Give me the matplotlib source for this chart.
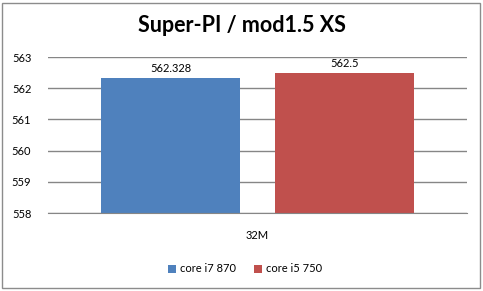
import matplotlib
matplotlib.use("Agg")
import matplotlib.pyplot as plt
from matplotlib.patches import Rectangle, Patch
from matplotlib.transforms import ScaledTranslation

title = "Super-PI / mod1.5 XS"
categories = ["32M"]
series_names = ["core i7 870", "core i5 750"]
series_values = [[562.328], [562.5]]
value_labels = [["562.328"], ["562.5"]]
colors = ["#4F81BD", "#C0504D"]
yticks = [558, 559, 560, 561, 562, 563]

plt.rcParams['font.family'] = ['Lato', 'DejaVu Sans']

fig = plt.figure(figsize=(4.83, 2.91), dpi=100)
fig.patches.append(Rectangle((2/483, 3/291), 478/483, 285/291, transform=fig.transFigure,
                             fill=False, edgecolor="#8c8c8c", linewidth=1))

ax = fig.add_axes([48/483, 1-213/291, 419/483, 156/291])
width = 0.332
offsets = [-0.2076, 0.2076]
label_shift = ScaledTranslation(0, 4/100, fig.dpi_scale_trans)
for i, (name, vals) in enumerate(zip(series_names, series_values)):
    xs = [offsets[i] + k for k in range(len(vals))]
    bars = ax.bar(xs, [v - yticks[0] for v in vals], bottom=yticks[0], width=width,
                  color=colors[i], zorder=3, label=name)
    for b, lbl in zip(bars, value_labels[i]):
        ax.text(b.get_x() + b.get_width()/2, b.get_y() + b.get_height(), lbl,
                ha="center", va="bottom", fontsize=8, color="#000000",
                transform=ax.transData + label_shift, zorder=4)

ax.set_xlim(-0.5, 0.5)
ax.set_ylim(yticks[0], yticks[-1])
ax.set_yticks(yticks)
ax.set_yticklabels([str(t) for t in yticks], fontsize=8)
ax.tick_params(axis="y", length=0, pad=12)
ax.set_xticks(range(len(categories)))
ax.set_xticklabels(categories, fontsize=8)
ax.tick_params(axis="x", length=0, pad=12)
ax.grid(axis="y", color="#868686", linewidth=1, zorder=0)
for s in ["left", "right", "top"]:
    ax.spines[s].set_visible(False)
ax.spines["bottom"].set_color("#868686")
ax.spines["bottom"].set_zorder(5)

fig.text(241.5/483, 1-25/291, title, ha="center", va="center", fontsize=15.5, fontweight="bold")

handles = [Patch(facecolor=c, label=n) for c, n in zip(colors, series_names)]
fig.legend(handles=handles, loc="center", bbox_to_anchor=(245/483, 1-269/291), ncol=2,
           frameon=False, fontsize=8, handlelength=0.7, handleheight=0.7,
           handletextpad=0.4, columnspacing=1.6)

fig.savefig("out.png", dpi=100)
